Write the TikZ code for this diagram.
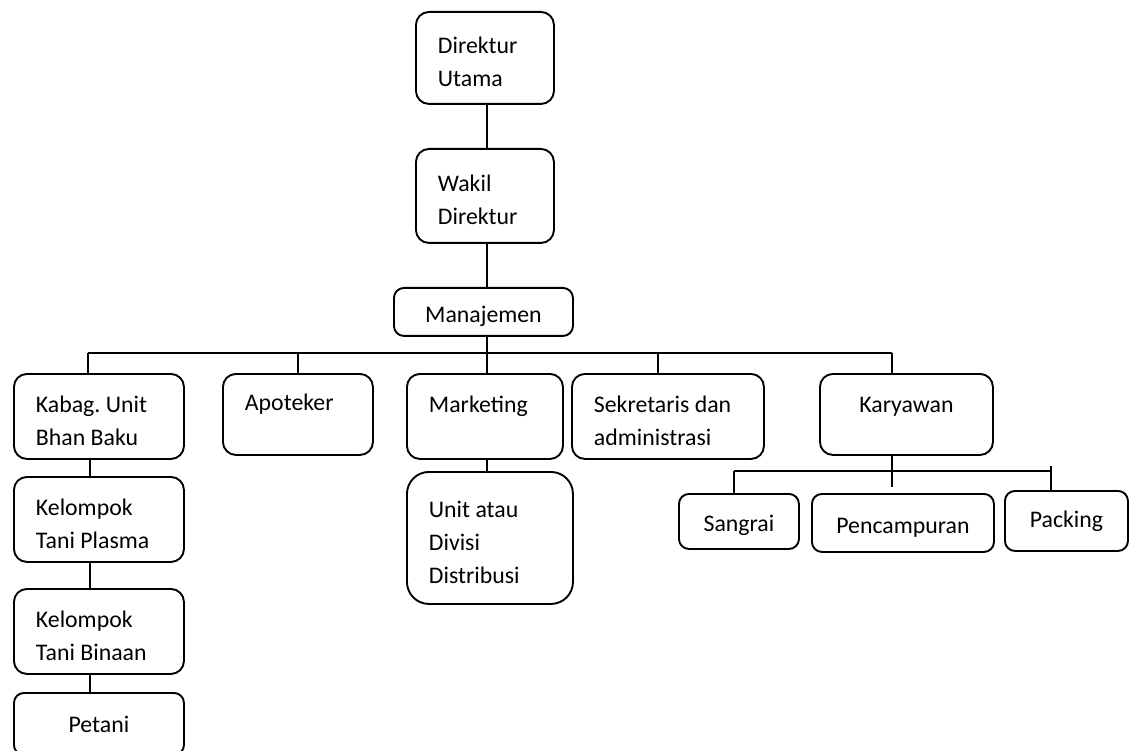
\documentclass[tikz,border=0pt]{standalone}
\usepackage{fontspec}
\setmainfont{Carlito}
\usepackage{tikz}

\begin{document}
\begin{tikzpicture}[x=1pt, y=-1pt,
  unit/.style={draw, line width=1.9pt, rounded corners=13pt, anchor=north west, inner ysep=0pt,
    font=\fontsize{23.8}{33}\selectfont\frenchspacing},
  low/.style={execute at begin node={\rule{0pt}{24.5pt}}},
  lft/.style={unit, low, align=flush left, inner xsep=22pt},
  mid/.style={unit, align=center, inner xsep=0pt},
  link/.style={line width=1.6pt}]
\useasboundingbox (0,0) rectangle (1130,751);
\fill[white] (0,0) rectangle (1130,751);

\node[lft, text width=94pt, minimum height=92pt] (dirut) at (415,11) {Direktur\\Utama};
\node[lft, text width=94pt, minimum height=94pt] (wadir) at (415,148) {Wakil\\Direktur};
\node[mid, low, minimum width=179pt, minimum height=48pt, rounded corners=10pt] (manaj) at (393,287) {Manajemen};

\node[lft, text width=126pt, minimum height=85pt] (kabag) at (13,373) {Kabag. Unit\\Bhan Baku};
\node[lft, text width=126pt, minimum height=85pt] (plasma) at (13,476) {Kelompok\\Tani Plasma};
\node[lft, text width=126pt, minimum height=85pt] (binaan) at (13,588) {Kelompok\\Tani Binaan};
\node[mid, minimum width=170pt, minimum height=62pt, rounded corners=10pt] (petani) at (13,692) {Petani};

\node[lft, text width=106pt, minimum height=81pt] (apotek) at (222,373) {Apoteker\\~};
\node[lft, text width=112pt, minimum height=85pt] (market) at (406,373) {Marketing\\~};
\node[lft, text width=122pt, minimum height=132pt, rounded corners=22pt] (distr) at (406,471) {Unit atau\\Divisi\\Distribusi};
\node[lft, text width=148pt, minimum height=85pt] (sekret) at (571,373) {Sekretaris dan\\administrasi};
\node[mid, minimum width=173pt, minimum height=81pt] (karyaw) at (819,373) {\rule{0pt}{28.5pt}Karyawan\\~};

\node[mid, low, minimum width=120pt, minimum height=55pt, rounded corners=10pt] (sangrai) at (678,493) {Sangrai};
\node[mid, low, minimum width=182pt, minimum height=58pt, rounded corners=10pt] (campur) at (811,493) {Pencampuran};
\node[mid, minimum width=123pt, minimum height=60pt, rounded corners=10pt] (packing) at (1004,490) {Packing};

\coordinate (spine) at (487,0);
\coordinate (busL) at (88,353);
\coordinate (busR) at (892,353);
\coordinate (subL) at (734,471);
\coordinate (subR) at (1051,471);

\draw[link] (dirut.south -| spine) -- (wadir.north -| spine);
\draw[link] (wadir.south -| spine) -- (manaj.north -| spine);
\draw[link] (manaj.south -| spine) -- (market.north -| spine);
\draw[link] (busL) -- (busR);
\draw[link] (busL) -- (busL |- kabag.north);
\draw[link] (apotek.north |- busL) -- (apotek.north);
\draw[link] (658,353) -- (sekret.north -| 658,0);
\draw[link] (busR) -- (busR |- karyaw.north);

\draw[link] ([xshift=-9pt]kabag.south) -- ([xshift=-9pt]plasma.north);
\draw[link] ([xshift=-9pt]plasma.south) -- ([xshift=-9pt]binaan.north);
\draw[link] ([xshift=-9pt]binaan.south) -- ([xshift=-9pt]petani.north);
\draw[link] (market.south -| spine) -- (distr.north -| spine);

\draw[link] (karyaw.south -| busR) -- ([yshift=6pt]campur.north -| busR);
\draw[link] (subL) -- (subR);
\draw[link] (subL) -- (subL |- sangrai.north);
\draw[link] ([yshift=5pt]subR) -- (subR |- packing.north);
\end{tikzpicture}
\end{document}
